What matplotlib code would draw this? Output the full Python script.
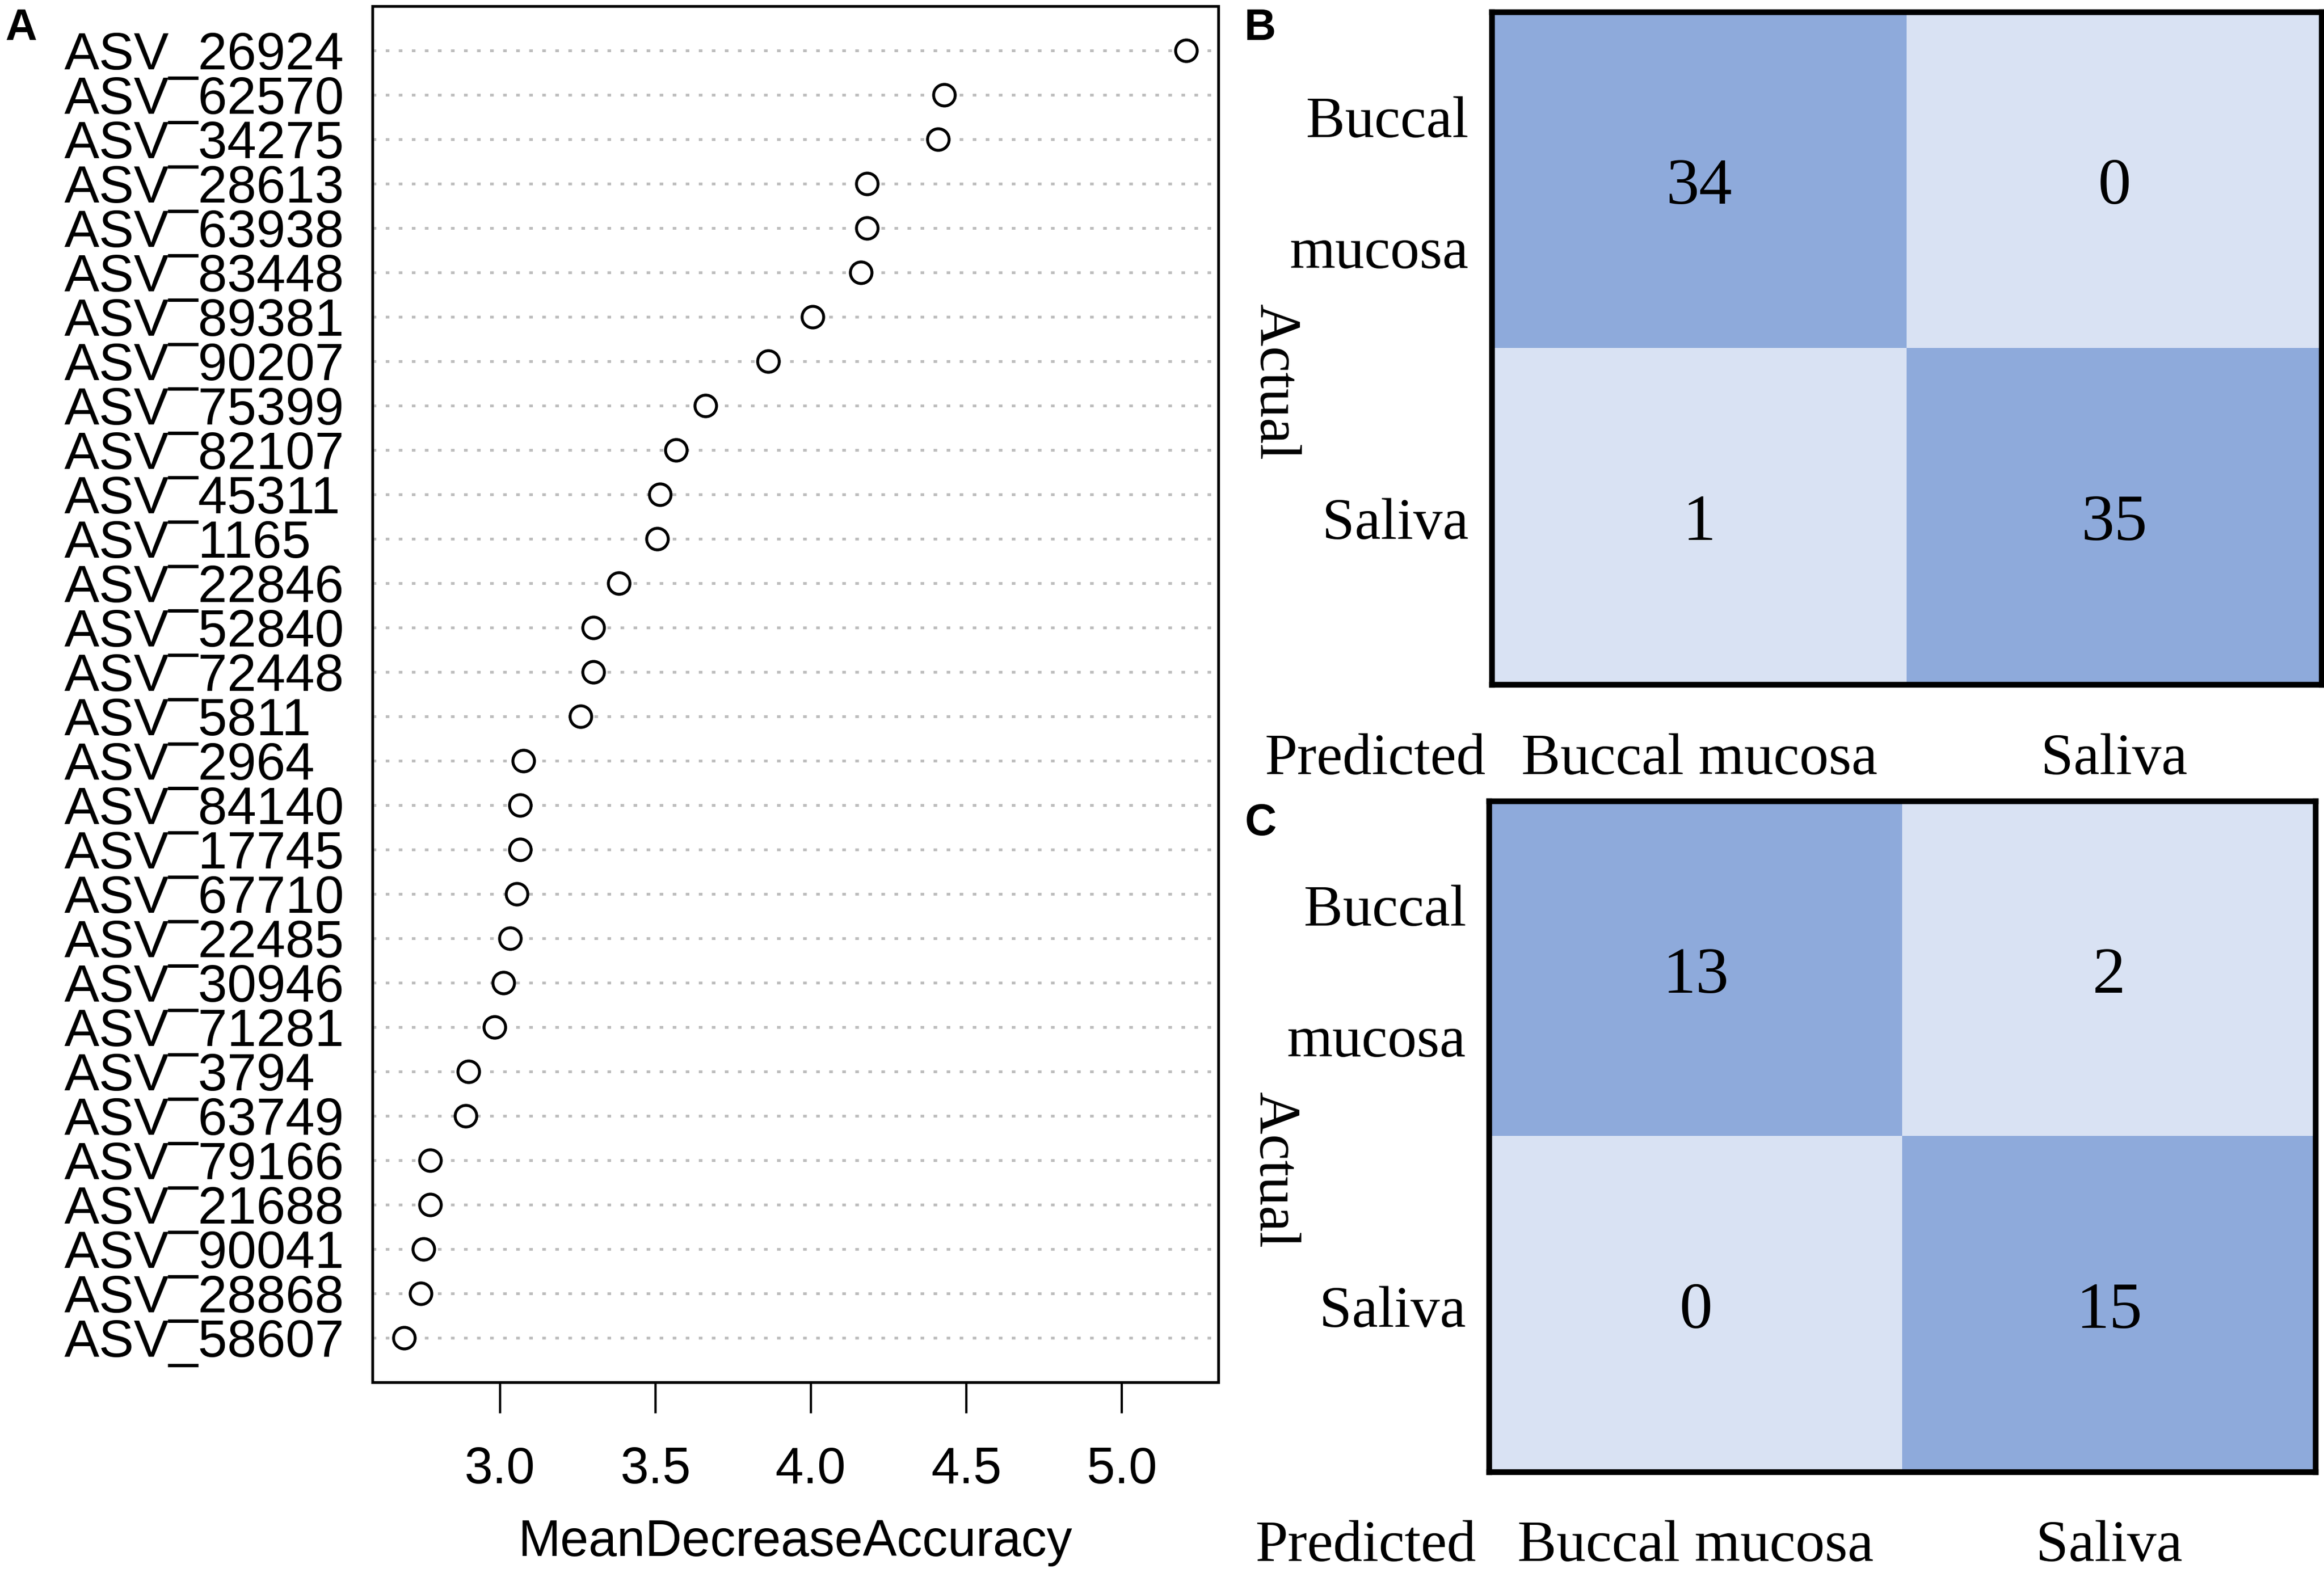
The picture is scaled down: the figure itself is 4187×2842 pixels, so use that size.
import numpy as np
import matplotlib
matplotlib.use("Agg")
import matplotlib.pyplot as plt
import matplotlib.transforms as mtransforms
from matplotlib.colors import ListedColormap

# panel A: random forest importance (top to bottom)
asv_ids = ["ASV_26924", "ASV_62570", "ASV_34275", "ASV_28613", "ASV_63938",
           "ASV_83448", "ASV_89381", "ASV_90207", "ASV_75399", "ASV_82107",
           "ASV_45311", "ASV_1165", "ASV_22846", "ASV_52840", "ASV_72448",
           "ASV_5811", "ASV_2964", "ASV_84140", "ASV_17745", "ASV_67710",
           "ASV_22485", "ASV_30946", "ASV_71281", "ASV_3794", "ASV_63749",
           "ASV_79166", "ASV_21688", "ASV_90041", "ASV_28868", "ASV_58607"]
mda = [5.207, 4.428, 4.408, 4.181, 4.181,
       4.161, 4.005, 3.863, 3.660, 3.567,
       3.515, 3.506, 3.382, 3.300, 3.300,
       3.259, 3.075, 3.064, 3.064, 3.054,
       3.033, 3.012, 2.982, 2.899, 2.889,
       2.776, 2.776, 2.754, 2.746, 2.691]
x_ticks = [3.0, 3.5, 4.0, 4.5, 5.0]

# panels B and C: confusion matrices (rows actual, cols predicted)
classes = ["Buccal mucosa", "Saliva"]
cm_train = [[34, 0], [1, 35]]
cm_test = [[13, 2], [0, 15]]

W, H, DPI = 4187, 2842, 100
SANS = "Liberation Sans"
SERIF = "Liberation Serif"
DARK = "#8EAADB"
LIGHT = "#D9E2F3"

fig = plt.figure(figsize=(W / DPI, H / DPI), dpi=DPI)


def px_axes(l, t, r, b):
    return fig.add_axes([l / W, 1 - b / H, (r - l) / W, (b - t) / H])


# ---- A: dot chart
ax = px_axes(671, 11, 2195, 2491)
n = len(asv_ids)
ypos = np.arange(n, 0, -1)
for y in ypos:
    ax.axhline(y, color="#bdbdbd", lw=3.6, linestyle=(0, (1.3, 3.4)), zorder=1)
ax.plot(mda, ypos, "o", ls="none", mfc="white", mec="black", ms=28, mew=3.8, zorder=3)
ax.set_ylim(0, n + 1)
ax.set_xlim(2.59, 5.31)
ax.set_yticks(ypos)
ax.set_yticklabels(asv_ids, fontsize=68, family=SANS, ha="left")
# labels sit left-aligned in the margin, like R's dotchart
ax.tick_params(axis="y", length=0, pad=(671 - 116) * 72 / DPI)
ax.set_xticks(x_ticks)
ax.set_xticklabels([f"{t:.1f}" for t in x_ticks], fontsize=66, family=SANS)
ax.tick_params(axis="x", length=40, width=3, pad=43)
for s in ax.spines.values():
    s.set_linewidth(3.6)
ax.set_xlabel("MeanDecreaseAccuracy", fontsize=66, family=SANS)
ax.xaxis.set_label_coords(0.5, -0.099)


def draw_cm(ax, counts, pred_dx, actual_dx):
    counts = np.asarray(counts)
    k = len(classes)
    correct = np.eye(k, dtype=int)
    ax.imshow(correct, cmap=ListedColormap([LIGHT, DARK]), extent=(0, k, k, 0),
              aspect="auto", interpolation="nearest")
    ax.set_xlim(0, k)
    ax.set_ylim(k, 0)
    ax.set_xticks([])
    ax.set_yticks([])
    for s in ax.spines.values():
        s.set_linewidth(7.5)
    tr = mtransforms.blended_transform_factory(ax.transAxes, ax.transData)
    for i in range(k):
        for j in range(k):
            ax.text(j + 0.5, i + 0.57, str(counts[i, j]), ha="center", va="baseline",
                    fontsize=86, family=SERIF)
        words = classes[i].split()
        m = len(words)
        for w_i, word in enumerate(words):
            yb = i + 0.5 + 0.066 + (w_i - (m - 1) / 2) * 0.391
            ax.text(-0.028, yb, word, transform=tr, ha="right", va="baseline",
                    fontsize=76, family=SERIF)
        ax.text(i + 0.5, k + 0.265, classes[i], ha="center", va="baseline",
                fontsize=76, family=SERIF)
    ax.text(pred_dx, k + 0.265, "Predicted", transform=tr, ha="right", va="baseline",
            fontsize=76, family=SERIF)
    ax.text(actual_dx, k / 2 + 0.1, "Actual", transform=tr, rotation=270,
            ha="center", va="center", fontsize=76, family=SERIF)


axb = px_axes(2688, 22, 4183, 1234)
draw_cm(axb, cm_train, -0.007, -0.263)
axc = px_axes(2683, 1444, 4172, 2653)
draw_cm(axc, cm_test, -0.015, -0.261)

for lab, x, y in [("A", 9, 72), ("B", 2242, 72), ("C", 2243, 1505)]:
    fig.text(x / W, 1 - y / H, lab, fontsize=57, fontweight="bold", family=SANS,
             ha="left", va="baseline")

fig.savefig("out.png", dpi=DPI)
